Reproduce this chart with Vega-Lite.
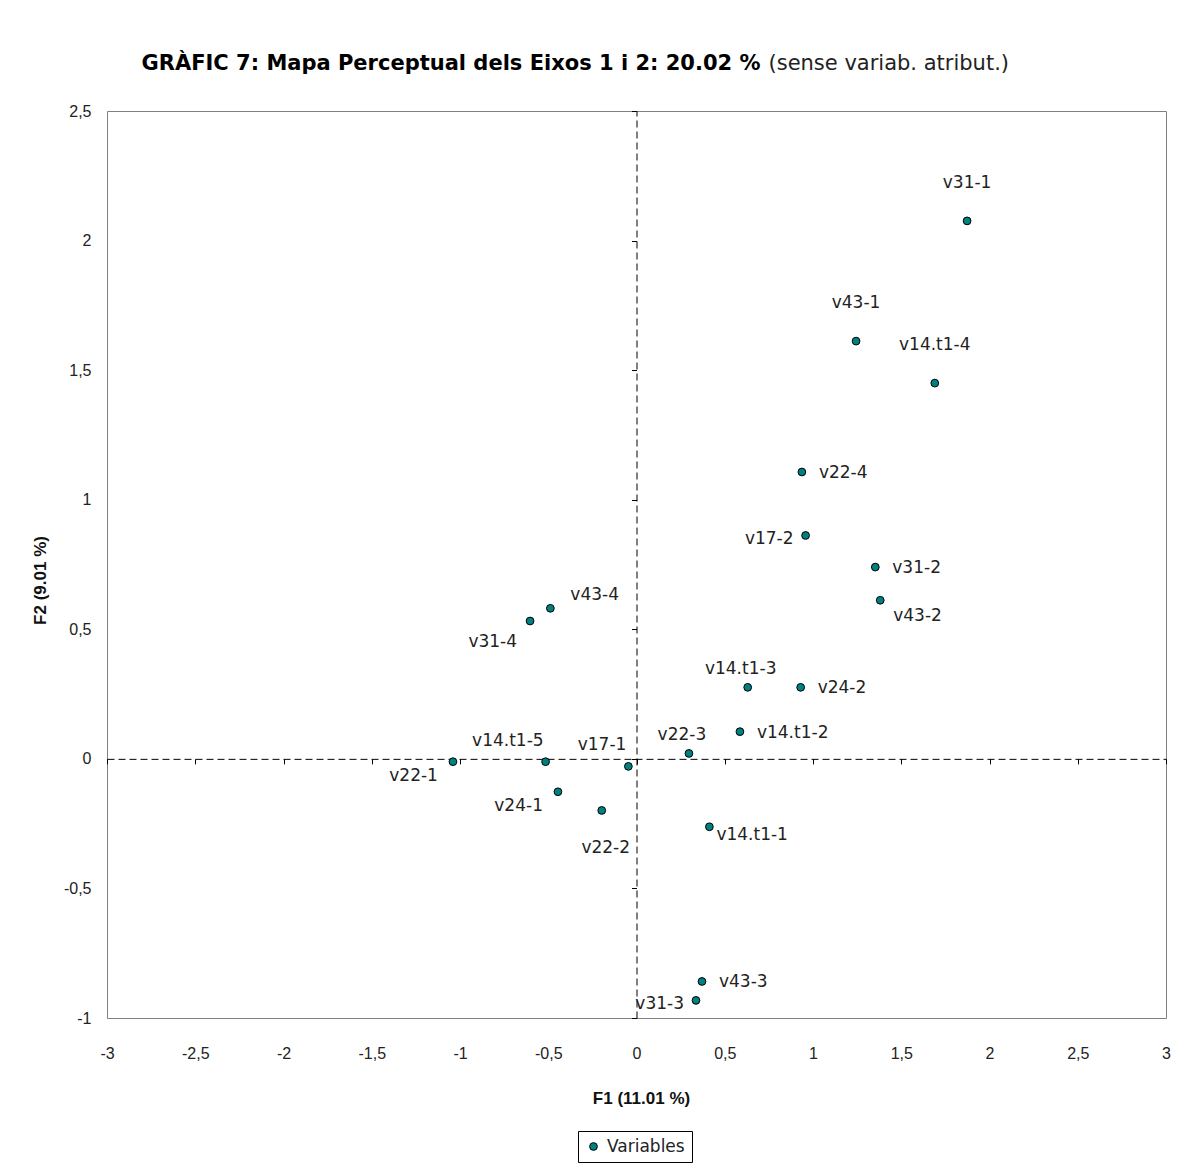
{
  "$schema": "https://vega.github.io/schema/vega-lite/v6.json",
  "width": 1059,
  "height": 907,
  "autosize": {"type": "none"},
  "padding": {"left": 107, "top": 111, "right": 22, "bottom": 145},
  "background": "white",
  "config": {
    "view": {"stroke": "#808080", "strokeWidth": 1},
    "font": "DejaVu Sans",
    "text": {"font": "DejaVu Sans", "fontSize": 17, "color": "#222"}
  },
  "data": {
    "values": [
      {"label": "v31-1", "F1": 1.873, "F2": 2.076},
      {"label": "v43-1", "F1": 1.244, "F2": 1.612},
      {"label": "v14.t1-4", "F1": 1.690, "F2": 1.450},
      {"label": "v22-4", "F1": 0.937, "F2": 1.107},
      {"label": "v17-2", "F1": 0.958, "F2": 0.862},
      {"label": "v31-2", "F1": 1.353, "F2": 0.740},
      {"label": "v43-2", "F1": 1.381, "F2": 0.612},
      {"label": "v43-4", "F1": -0.488, "F2": 0.581},
      {"label": "v31-4", "F1": -0.603, "F2": 0.532},
      {"label": "v14.t1-3", "F1": 0.630, "F2": 0.276},
      {"label": "v24-2", "F1": 0.930, "F2": 0.276},
      {"label": "v14.t1-2", "F1": 0.586, "F2": 0.105},
      {"label": "v22-3", "F1": 0.297, "F2": 0.021},
      {"label": "v22-1", "F1": -1.040, "F2": -0.011},
      {"label": "v14.t1-5", "F1": -0.515, "F2": -0.011},
      {"label": "v17-1", "F1": -0.046, "F2": -0.029},
      {"label": "v24-1", "F1": -0.445, "F2": -0.127},
      {"label": "v22-2", "F1": -0.197, "F2": -0.199},
      {"label": "v14.t1-1", "F1": 0.413, "F2": -0.262},
      {"label": "v43-3", "F1": 0.371, "F2": -0.859},
      {"label": "v31-3", "F1": 0.337, "F2": -0.932}
    ]
  },
  "resolve": {"axis": {"x": "independent", "y": "independent"}},
  "layer": [
    {
      "mark": {"type": "point", "filled": true, "shape": "circle", "size": 60, "stroke": "black", "strokeWidth": 1, "opacity": 1},
      "encoding": {
        "x": {"field": "F1", "type": "quantitative", "scale": {"domain": [-3, 3], "nice": false, "zero": false},
          "axis": {"orient": "bottom", "domain": false, "ticks": false, "tickSize": 0, "grid": false,
            "values": [-3, -2.5, -2, -1.5, -1, -0.5, 0, 0.5, 1, 1.5, 2, 2.5, 3],
            "labelExpr": "replace(toString(datum.value), '.', ',')",
            "labelFont": "Liberation Sans", "labelFontSize": 16, "labelColor": "#222", "labelPadding": 27, "labelFlush": false,
            "title": "F1 (11.01 %)", "titleFont": "Liberation Sans", "titleFontSize": 17, "titleFontWeight": "bold", "titleColor": "#111",
            "titleX": 534, "titleY": 80, "titleBaseline": "middle", "titleAlign": "center", "titleAnchor": null}},
        "y": {"field": "F2", "type": "quantitative", "scale": {"domain": [-1, 2.5], "nice": false, "zero": false},
          "axis": {"orient": "left", "domain": false, "ticks": false, "tickSize": 0, "grid": false,
            "values": [-1, -0.5, 0, 0.5, 1, 1.5, 2, 2.5],
            "labelExpr": "replace(toString(datum.value), '.', ',')",
            "labelFont": "Liberation Sans", "labelFontSize": 16, "labelColor": "#222", "labelPadding": 16, "labelFlush": false,
            "title": "F2 (9.01 %)", "titleFont": "Liberation Sans", "titleFontSize": 17, "titleFontWeight": "bold", "titleColor": "#111",
            "titleAngle": -90, "titleX": -67, "titleY": 469, "titleBaseline": "middle", "titleAlign": "center", "titleAnchor": null}},
        "color": {"datum": "Variables", "type": "nominal", "scale": {"range": ["#008080"]},
          "legend": {"title": null, "orient": "none", "legendX": 471, "legendY": 1020,
            "strokeColor": "black", "fillColor": "white", "padding": 7,
            "symbolType": "circle", "symbolSize": 60, "symbolStrokeColor": "black", "symbolStrokeWidth": 1, "symbolFillColor": "#008080",
            "labelFont": "DejaVu Sans", "labelFontSize": 17, "labelColor": "#222", "labelOffset": 5}}
      }
    },
    {
      "transform": [{"filter": {"field": "label", "oneOf": ["v31-1", "v43-1", "v14.t1-4"]}}],
      "mark": {"type": "text", "align": "center", "baseline": "middle", "dx": 0, "dy": -38},
      "encoding": {
        "x": {"field": "F1", "type": "quantitative",
          "axis": {"orient": "bottom", "offset": -259.143, "labels": false, "grid": false, "title": null,
            "domainColor": "black", "domainDash": [7, 4], "domainWidth": 1, "tickColor": "black", "tickSize": 5, "tickWidth": 1,
            "values": [-3, -2.5, -2, -1.5, -1, -0.5, 0, 0.5, 1, 1.5, 2, 2.5, 3]}},
        "y": {"field": "F2", "type": "quantitative",
          "axis": {"orient": "left", "offset": -529.5, "labels": false, "grid": false, "title": null,
            "domainColor": "black", "domainDash": [7, 4], "domainWidth": 1, "tickColor": "black", "tickSize": 5, "tickWidth": 1,
            "values": [-1, -0.5, 0, 0.5, 1, 1.5, 2, 2.5]}},
        "text": {"field": "label"}
      }
    },
    {
      "transform": [{"filter": {"field": "label", "oneOf": ["v22-2"]}}],
      "mark": {"type": "text", "align": "center", "baseline": "middle", "dx": 4, "dy": 38},
      "encoding": {
        "x": {"field": "F1", "type": "quantitative",
          "axis": {"orient": "top", "domain": false, "ticks": false, "labels": false, "grid": false,
            "title": "GRÀFIC 7: Mapa Perceptual dels Eixos 1 i 2: 20.02 %",
            "titleFont": "DejaVu Sans", "titleFontSize": 21, "titleFontWeight": "bold", "titleColor": "black",
            "titleX": 653, "titleY": -42, "titleAlign": "right", "titleBaseline": "alphabetic", "titleAnchor": null}},
        "y": {"field": "F2", "type": "quantitative", "axis": null},
        "text": {"field": "label"}
      }
    },
    {
      "transform": [{"filter": {"field": "label", "oneOf": ["v14.t1-3", "v22-3"]}}],
      "mark": {"type": "text", "align": "center", "baseline": "middle", "dx": -7, "dy": -18},
      "encoding": {
        "x": {"field": "F1", "type": "quantitative",
          "axis": {"orient": "top", "domain": false, "ticks": false, "labels": false, "grid": false,
            "title": "(sense variab. atribut.)",
            "titleFont": "DejaVu Sans", "titleFontSize": 21, "titleFontWeight": "normal", "titleColor": "#222",
            "titleX": 661, "titleY": -42, "titleAlign": "left", "titleBaseline": "alphabetic", "titleAnchor": null}},
        "y": {"field": "F2", "type": "quantitative", "axis": null},
        "text": {"field": "label"}
      }
    },
    {
      "transform": [{"filter": {"field": "label", "oneOf": ["v14.t1-5", "v17-1"]}}],
      "mark": {"type": "text", "align": "right", "baseline": "middle", "dx": -2, "dy": -21},
      "encoding": {
        "x": {"field": "F1", "type": "quantitative", "axis": null},
        "y": {"field": "F2", "type": "quantitative", "axis": null},
        "text": {"field": "label"}
      }
    },
    {
      "transform": [{"filter": {"field": "label", "oneOf": ["v43-4"]}}],
      "mark": {"type": "text", "align": "left", "baseline": "middle", "dx": 20, "dy": -13},
      "encoding": {
        "x": {"field": "F1", "type": "quantitative", "axis": null},
        "y": {"field": "F2", "type": "quantitative", "axis": null},
        "text": {"field": "label"}
      }
    },
    {
      "transform": [{"filter": {"field": "label", "oneOf": ["v22-1", "v24-1"]}}],
      "mark": {"type": "text", "align": "right", "baseline": "middle", "dx": -15, "dy": 14},
      "encoding": {
        "x": {"field": "F1", "type": "quantitative", "axis": null},
        "y": {"field": "F2", "type": "quantitative", "axis": null},
        "text": {"field": "label"}
      }
    },
    {
      "transform": [{"filter": {"field": "label", "oneOf": ["v31-4"]}}],
      "mark": {"type": "text", "align": "right", "baseline": "middle", "dx": -13, "dy": 21},
      "encoding": {
        "x": {"field": "F1", "type": "quantitative", "axis": null},
        "y": {"field": "F2", "type": "quantitative", "axis": null},
        "text": {"field": "label"}
      }
    },
    {
      "transform": [{"filter": {"field": "label", "oneOf": ["v17-2", "v31-3"]}}],
      "mark": {"type": "text", "align": "right", "baseline": "middle", "dx": -12, "dy": 4},
      "encoding": {
        "x": {"field": "F1", "type": "quantitative", "axis": null},
        "y": {"field": "F2", "type": "quantitative", "axis": null},
        "text": {"field": "label"}
      }
    },
    {
      "transform": [{"filter": {"field": "label", "oneOf": ["v22-4", "v31-2", "v24-2", "v43-3", "v14.t1-2"]}}],
      "mark": {"type": "text", "align": "left", "baseline": "middle", "dx": 17, "dy": 1},
      "encoding": {
        "x": {"field": "F1", "type": "quantitative", "axis": null},
        "y": {"field": "F2", "type": "quantitative", "axis": null},
        "text": {"field": "label"}
      }
    },
    {
      "transform": [{"filter": {"field": "label", "oneOf": ["v14.t1-1"]}}],
      "mark": {"type": "text", "align": "left", "baseline": "middle", "dx": 7, "dy": 8},
      "encoding": {
        "x": {"field": "F1", "type": "quantitative", "axis": null},
        "y": {"field": "F2", "type": "quantitative", "axis": null},
        "text": {"field": "label"}
      }
    },
    {
      "transform": [{"filter": {"field": "label", "oneOf": ["v43-2"]}}],
      "mark": {"type": "text", "align": "left", "baseline": "middle", "dx": 13, "dy": 16},
      "encoding": {
        "x": {"field": "F1", "type": "quantitative", "axis": null},
        "y": {"field": "F2", "type": "quantitative", "axis": null},
        "text": {"field": "label"}
      }
    }
  ]
}
